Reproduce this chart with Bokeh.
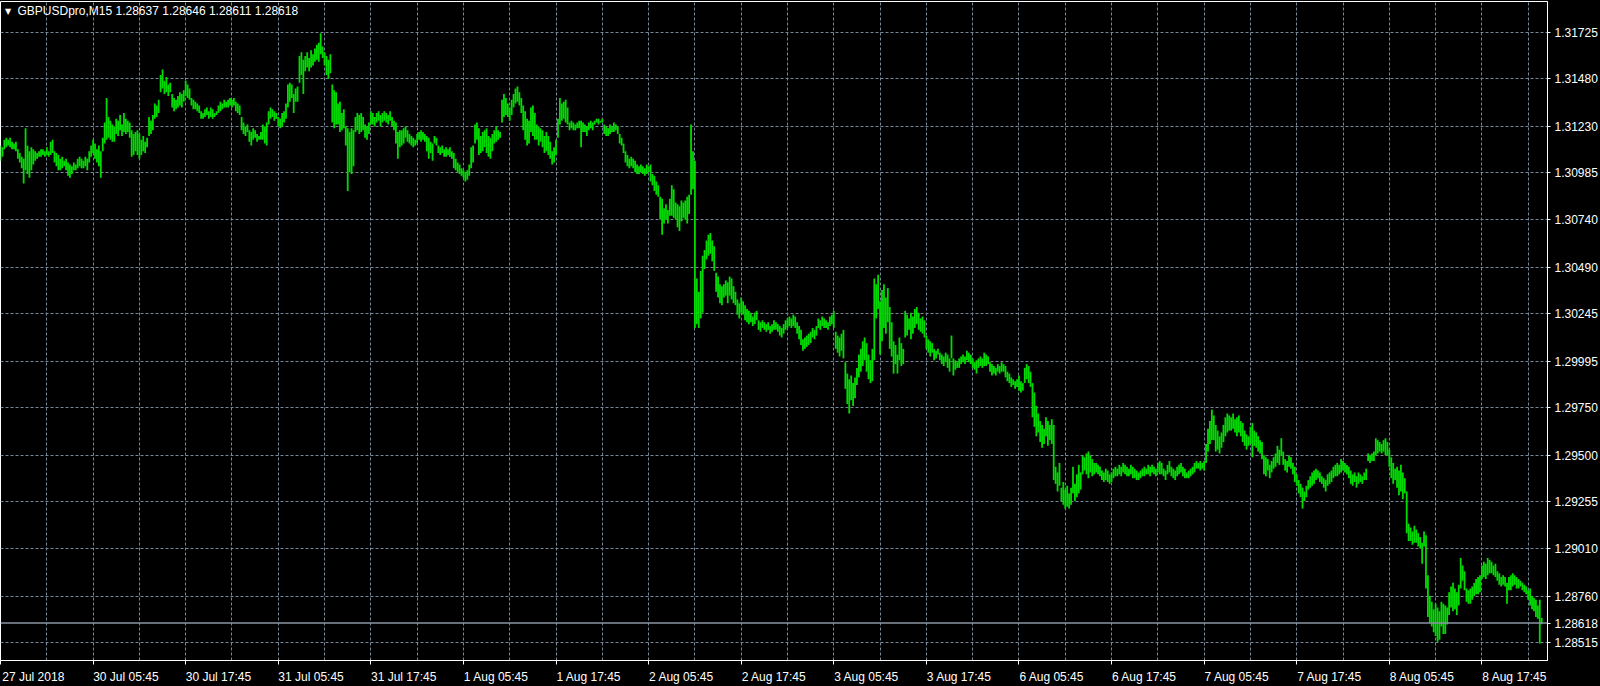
import numpy as np
from bokeh.plotting import figure
from bokeh.models import (Range1d, LinearAxis, FixedTicker, PrintfTickFormatter,
                          Span, Label, GlobalInlineStyleSheet)
from bokeh.embed import file_html
from bokeh.resources import INLINE

chart_title = "GBPUSDpro,M15  1.28637 1.28646 1.28611 1.28618"
current_price = 1.28618
price_ticks = [1.31725, 1.31480, 1.31230, 1.30985, 1.30740, 1.30490, 1.30245,
               1.29995, 1.29750, 1.29500, 1.29255, 1.29010, 1.28760, 1.28515]
time_labels = ["27 Jul 2018", "30 Jul 05:45", "30 Jul 17:45", "31 Jul 05:45",
               "31 Jul 17:45", "1 Aug 05:45", "1 Aug 17:45", "2 Aug 05:45",
               "2 Aug 17:45", "3 Aug 05:45", "3 Aug 17:45", "6 Aug 05:45",
               "6 Aug 17:45", "7 Aug 05:45", "7 Aug 17:45", "8 Aug 05:45",
               "8 Aug 17:45"]

# M15 bar highs (one per bar, oldest first)
high = [
    1.3113, 1.3112, 1.3116, 1.3117, 1.3116, 1.3117, 1.3115, 1.3114, 1.3115, 1.3111,
    1.3109, 1.3107, 1.3106, 1.3122, 1.3113, 1.3110, 1.3112, 1.3111, 1.3110, 1.3109,
    1.3110, 1.3111, 1.3111, 1.3110, 1.3112, 1.3110, 1.3115, 1.3116, 1.3110, 1.3109,
    1.3108, 1.3106, 1.3107, 1.3105, 1.3106, 1.3104, 1.3103, 1.3102, 1.3104, 1.3103,
    1.3106, 1.3107, 1.3106, 1.3105, 1.3107, 1.3106, 1.3110, 1.3113, 1.3116, 1.3114,
    1.3111, 1.3113, 1.3110, 1.3117, 1.3125, 1.3138, 1.3128, 1.3126, 1.3124, 1.3123,
    1.3127, 1.3126, 1.3129, 1.3124, 1.3130, 1.3127, 1.3126, 1.3125, 1.3121, 1.3119,
    1.3120, 1.3121, 1.3119, 1.3116, 1.3118, 1.3115, 1.3117, 1.3128, 1.3126, 1.3129,
    1.3135, 1.3134, 1.3137, 1.3150, 1.3153, 1.3147, 1.3149, 1.3145, 1.3146, 1.3140,
    1.3138, 1.3137, 1.3139, 1.3141, 1.3140, 1.3142, 1.3147, 1.3145, 1.3143, 1.3138,
    1.3137, 1.3136, 1.3135, 1.3134, 1.3131, 1.3130, 1.3132, 1.3133, 1.3131, 1.3133,
    1.3132, 1.3130, 1.3131, 1.3134, 1.3136, 1.3135, 1.3137, 1.3136, 1.3137, 1.3138,
    1.3137, 1.3138, 1.3136, 1.3135, 1.3134, 1.3128, 1.3125, 1.3123, 1.3124, 1.3121,
    1.3120, 1.3122, 1.3121, 1.3119, 1.3118, 1.3120, 1.3124, 1.3123, 1.3125, 1.3131,
    1.3133, 1.3132, 1.3131, 1.3130, 1.3128, 1.3127, 1.3130, 1.3131, 1.3135, 1.3145,
    1.3146, 1.3145, 1.3140, 1.3143, 1.3144, 1.3160, 1.3162, 1.3158, 1.3160, 1.3162,
    1.3159, 1.3163, 1.3161, 1.3164, 1.3166, 1.3167, 1.3172, 1.3165, 1.3162, 1.3160,
    1.3158, 1.3161, 1.3145, 1.3142, 1.3141, 1.3135, 1.3136, 1.3130, 1.3132, 1.3123,
    1.3122, 1.3120, 1.3122, 1.3121, 1.3128, 1.3130, 1.3129, 1.3130, 1.3128, 1.3124,
    1.3123, 1.3125, 1.3131, 1.3130, 1.3128, 1.3130, 1.3131, 1.3129, 1.3130, 1.3131,
    1.3130, 1.3129, 1.3131, 1.3128, 1.3126, 1.3125, 1.3120, 1.3121, 1.3121, 1.3122,
    1.3123, 1.3121, 1.3119, 1.3118, 1.3117, 1.3116, 1.3119, 1.3120, 1.3121, 1.3120,
    1.3119, 1.3118, 1.3117, 1.3115, 1.3114, 1.3118, 1.3117, 1.3113, 1.3112, 1.3113,
    1.3111, 1.3112, 1.3111, 1.3112, 1.3110, 1.3109, 1.3106, 1.3104, 1.3103, 1.3101,
    1.3100, 1.3099, 1.3100, 1.3103, 1.3112, 1.3113, 1.3124, 1.3125, 1.3122, 1.3118,
    1.3120, 1.3121, 1.3122, 1.3118, 1.3117, 1.3119, 1.3121, 1.3123, 1.3121, 1.3120,
    1.3137, 1.3140, 1.3138, 1.3135, 1.3133, 1.3137, 1.3140, 1.3143, 1.3144, 1.3141,
    1.3138, 1.3134, 1.3131, 1.3127, 1.3126, 1.3133, 1.3134, 1.3130, 1.3124, 1.3123,
    1.3122, 1.3121, 1.3118, 1.3120, 1.3118, 1.3115, 1.3110, 1.3112, 1.3116, 1.3127,
    1.3138, 1.3135, 1.3136, 1.3137, 1.3133, 1.3125, 1.3126, 1.3125, 1.3124, 1.3125,
    1.3126, 1.3126, 1.3125, 1.3124, 1.3123, 1.3125, 1.3126, 1.3125, 1.3126, 1.3127,
    1.3127, 1.3126, 1.3127, 1.3124, 1.3123, 1.3122, 1.3124, 1.3123, 1.3125, 1.3124,
    1.3123, 1.3119, 1.3117, 1.3114, 1.3110, 1.3108, 1.3106, 1.3107, 1.3106, 1.3105,
    1.3103, 1.3102, 1.3103, 1.3102, 1.3101, 1.3103, 1.3102, 1.3103, 1.3098, 1.3097,
    1.3094, 1.3092, 1.3086, 1.3085, 1.3080, 1.3082, 1.3079, 1.3085, 1.3092, 1.3090,
    1.3083, 1.3082, 1.3081, 1.3084, 1.3083, 1.3084, 1.3086, 1.3087, 1.3124, 1.3110,
    1.3105, 1.3043, 1.3036, 1.3047, 1.3055, 1.3058, 1.3063, 1.3066, 1.3067, 1.3063,
    1.3060, 1.3046, 1.3044, 1.3040, 1.3039, 1.3040, 1.3042, 1.3041, 1.3044, 1.3043,
    1.3039, 1.3036, 1.3032, 1.3030, 1.3033, 1.3031, 1.3029, 1.3027, 1.3026, 1.3025,
    1.3023, 1.3025, 1.3026, 1.3021, 1.3020, 1.3021, 1.3020, 1.3019, 1.3020, 1.3018,
    1.3019, 1.3021, 1.3020, 1.3019, 1.3018, 1.3017, 1.3019, 1.3021, 1.3022, 1.3023,
    1.3022, 1.3024, 1.3023, 1.3020, 1.3018, 1.3016, 1.3011, 1.3012, 1.3013, 1.3014,
    1.3015, 1.3017, 1.3016, 1.3018, 1.3022, 1.3021, 1.3023, 1.3022, 1.3021, 1.3020,
    1.3023, 1.3024, 1.3026, 1.3015, 1.3013, 1.3012, 1.3014, 1.3016, 1.2999, 1.2993,
    1.2990, 1.2992, 1.2988, 1.2991, 1.2996, 1.3003, 1.3006, 1.3010, 1.3012, 1.3009,
    1.3003, 1.3000, 1.3006, 1.3043, 1.3040, 1.3045, 1.3031, 1.3037, 1.3040, 1.3033,
    1.3038, 1.3028, 1.3020, 1.3010, 1.3008, 1.3003, 1.3012, 1.3009, 1.3006, 1.3026,
    1.3024, 1.3022, 1.3025, 1.3023, 1.3027, 1.3028, 1.3025, 1.3022, 1.3023, 1.3021,
    1.3013, 1.3011, 1.3010, 1.3009, 1.3006, 1.3005, 1.3006, 1.3004, 1.3003, 1.3002,
    1.3004, 1.3003, 1.3001, 1.3013, 1.3001, 1.3000, 1.2999, 1.3001, 1.3002, 1.3003,
    1.3002, 1.3005, 1.3004, 1.3003, 1.3001, 1.2999, 1.3000, 1.3001, 1.3002, 1.3001,
    1.3004, 1.3003, 1.3002, 1.2999, 1.2998, 1.2997, 1.2996, 1.2998, 1.2997, 1.2999,
    1.2998, 1.2997, 1.2994, 1.2993, 1.2991, 1.2990, 1.2989, 1.2990, 1.2992, 1.2989,
    1.2988, 1.2996, 1.2998, 1.2997, 1.2994, 1.2988, 1.2983, 1.2976, 1.2972, 1.2968,
    1.2966, 1.2964, 1.2970, 1.2968, 1.2966, 1.2969, 1.2966, 1.2944, 1.2941, 1.2946,
    1.2933, 1.2936, 1.2932, 1.2934, 1.2930, 1.2933, 1.2944, 1.2935, 1.2940, 1.2945,
    1.2941, 1.2950, 1.2949, 1.2951, 1.2952, 1.2950, 1.2948, 1.2946, 1.2946, 1.2945,
    1.2944, 1.2942, 1.2941, 1.2943, 1.2942, 1.2940, 1.2941, 1.2943, 1.2944, 1.2943,
    1.2945, 1.2944, 1.2946, 1.2945, 1.2944, 1.2943, 1.2945, 1.2944, 1.2943, 1.2942,
    1.2941, 1.2942, 1.2943, 1.2944, 1.2943, 1.2945, 1.2944, 1.2945, 1.2944, 1.2943,
    1.2946, 1.2947, 1.2946, 1.2943, 1.2942, 1.2945, 1.2947, 1.2944, 1.2943, 1.2942,
    1.2944, 1.2945, 1.2946, 1.2944, 1.2943, 1.2941, 1.2942, 1.2943, 1.2944, 1.2946,
    1.2947, 1.2946, 1.2947, 1.2946, 1.2947, 1.2956, 1.2964, 1.2968, 1.2974, 1.2971,
    1.2966, 1.2963, 1.2960, 1.2962, 1.2966, 1.2970, 1.2972, 1.2971, 1.2970, 1.2972,
    1.2969, 1.2970, 1.2971, 1.2968, 1.2967, 1.2963, 1.2961, 1.2960, 1.2965, 1.2967,
    1.2963, 1.2962, 1.2960, 1.2958, 1.2957, 1.2950, 1.2949, 1.2948, 1.2945, 1.2947,
    1.2949, 1.2951, 1.2955, 1.2953, 1.2959, 1.2952, 1.2948, 1.2947, 1.2950, 1.2949,
    1.2946, 1.2944, 1.2940, 1.2937, 1.2935, 1.2933, 1.2931, 1.2934, 1.2937, 1.2939,
    1.2941, 1.2942, 1.2943, 1.2942, 1.2941, 1.2939, 1.2938, 1.2937, 1.2940, 1.2941,
    1.2942, 1.2944, 1.2945, 1.2946, 1.2945, 1.2948, 1.2947, 1.2946, 1.2945, 1.2944,
    1.2942, 1.2940, 1.2941, 1.2939, 1.2941, 1.2940, 1.2939, 1.2941, 1.2943, 1.2951,
    1.2950, 1.2951, 1.2952, 1.2959, 1.2958, 1.2957, 1.2956, 1.2958, 1.2959, 1.2957,
    1.2953, 1.2949, 1.2946, 1.2943, 1.2944, 1.2942, 1.2945, 1.2941, 1.2938, 1.2931,
    1.2914, 1.2912, 1.2910, 1.2913, 1.2911, 1.2909, 1.2907, 1.2904, 1.2910, 1.2908,
    1.2887, 1.2876, 1.2873, 1.2869, 1.2872, 1.2870, 1.2868, 1.2873, 1.2872, 1.2871,
    1.2870, 1.2878, 1.2881, 1.2883, 1.2880, 1.2878, 1.2882, 1.2896, 1.2892, 1.2889,
    1.2880, 1.2879, 1.2880, 1.2881, 1.2883, 1.2885, 1.2886, 1.2887, 1.2892, 1.2894,
    1.2893, 1.2896, 1.2895, 1.2894, 1.2892, 1.2893, 1.2889, 1.2888, 1.2886, 1.2887,
    1.2886, 1.2883, 1.2886, 1.2887, 1.2888, 1.2887, 1.2886, 1.2885, 1.2884, 1.2883,
    1.2882, 1.2881, 1.2879, 1.2880, 1.2876, 1.2875, 1.2874, 1.2871, 1.2874, 1.28646,
]

# M15 bar lows (one per bar, oldest first)
low = [
    1.3105, 1.3107, 1.3111, 1.3112, 1.3113, 1.3112, 1.3111, 1.3111, 1.3110, 1.3106,
    1.3104, 1.3101, 1.3093, 1.3100, 1.3098, 1.3096, 1.3100, 1.3103, 1.3105, 1.3106,
    1.3107, 1.3107, 1.3108, 1.3107, 1.3108, 1.3107, 1.3108, 1.3109, 1.3104, 1.3102,
    1.3100, 1.3100, 1.3101, 1.3102, 1.3100, 1.3097, 1.3096, 1.3098, 1.3100, 1.3100,
    1.3101, 1.3102, 1.3101, 1.3101, 1.3102, 1.3100, 1.3104, 1.3107, 1.3109, 1.3106,
    1.3104, 1.3102, 1.3096, 1.3110, 1.3114, 1.3116, 1.3117, 1.3116, 1.3115, 1.3115,
    1.3119, 1.3118, 1.3121, 1.3118, 1.3120, 1.3119, 1.3120, 1.3117, 1.3107, 1.3108,
    1.3110, 1.3108, 1.3106, 1.3108, 1.3110, 1.3109, 1.3112, 1.3118, 1.3119, 1.3121,
    1.3127, 1.3128, 1.3130, 1.3141, 1.3143, 1.3140, 1.3141, 1.3139, 1.3141, 1.3133,
    1.3131, 1.3132, 1.3133, 1.3134, 1.3133, 1.3136, 1.3139, 1.3138, 1.3137, 1.3134,
    1.3132, 1.3132, 1.3131, 1.3130, 1.3127, 1.3127, 1.3128, 1.3129, 1.3127, 1.3128,
    1.3127, 1.3128, 1.3129, 1.3130, 1.3131, 1.3132, 1.3133, 1.3133, 1.3133, 1.3134,
    1.3133, 1.3134, 1.3131, 1.3130, 1.3129, 1.3121, 1.3119, 1.3118, 1.3120, 1.3115,
    1.3113, 1.3116, 1.3117, 1.3115, 1.3116, 1.3116, 1.3116, 1.3114, 1.3113, 1.3124,
    1.3127, 1.3128, 1.3126, 1.3127, 1.3123, 1.3122, 1.3123, 1.3125, 1.3127, 1.3133,
    1.3136, 1.3138, 1.3130, 1.3136, 1.3136, 1.3146, 1.3150, 1.3140, 1.3152, 1.3154,
    1.3152, 1.3154, 1.3155, 1.3157, 1.3158, 1.3157, 1.3161, 1.3159, 1.3155, 1.3150,
    1.3148, 1.3151, 1.3125, 1.3122, 1.3124, 1.3124, 1.3120, 1.3121, 1.3122, 1.3113,
    1.3089, 1.3099, 1.3098, 1.3102, 1.3120, 1.3121, 1.3119, 1.3120, 1.3121, 1.3117,
    1.3116, 1.3119, 1.3124, 1.3124, 1.3123, 1.3125, 1.3126, 1.3123, 1.3125, 1.3126,
    1.3125, 1.3124, 1.3126, 1.3123, 1.3121, 1.3114, 1.3106, 1.3112, 1.3113, 1.3114,
    1.3117, 1.3115, 1.3114, 1.3113, 1.3112, 1.3113, 1.3114, 1.3116, 1.3115, 1.3116,
    1.3115, 1.3110, 1.3106, 1.3109, 1.3105, 1.3114, 1.3113, 1.3109, 1.3108, 1.3109,
    1.3107, 1.3107, 1.3108, 1.3107, 1.3106, 1.3101, 1.3100, 1.3099, 1.3098, 1.3097,
    1.3096, 1.3094, 1.3095, 1.3097, 1.3101, 1.3104, 1.3114, 1.3116, 1.3108, 1.3109,
    1.3110, 1.3112, 1.3109, 1.3107, 1.3106, 1.3110, 1.3114, 1.3115, 1.3116, 1.3117,
    1.3125, 1.3128, 1.3129, 1.3128, 1.3126, 1.3129, 1.3133, 1.3135, 1.3136, 1.3134,
    1.3130, 1.3121, 1.3116, 1.3113, 1.3114, 1.3120, 1.3118, 1.3116, 1.3116, 1.3113,
    1.3115, 1.3112, 1.3109, 1.3110, 1.3108, 1.3106, 1.3103, 1.3104, 1.3108, 1.3117,
    1.3124, 1.3126, 1.3127, 1.3125, 1.3124, 1.3121, 1.3122, 1.3121, 1.3121, 1.3122,
    1.3122, 1.3112, 1.3120, 1.3120, 1.3118, 1.3121, 1.3122, 1.3121, 1.3124, 1.3125,
    1.3124, 1.3125, 1.3125, 1.3119, 1.3118, 1.3118, 1.3119, 1.3120, 1.3120, 1.3121,
    1.3119, 1.3114, 1.3113, 1.3109, 1.3104, 1.3102, 1.3101, 1.3102, 1.3101, 1.3099,
    1.3098, 1.3098, 1.3099, 1.3098, 1.3097, 1.3098, 1.3099, 1.3094, 1.3092, 1.3089,
    1.3087, 1.3086, 1.3074, 1.3066, 1.3072, 1.3074, 1.3072, 1.3076, 1.3076, 1.3075,
    1.3074, 1.3070, 1.3068, 1.3073, 1.3075, 1.3074, 1.3072, 1.3077, 1.3087, 1.3090,
    1.3017, 1.3019, 1.3017, 1.3022, 1.3025, 1.3048, 1.3053, 1.3055, 1.3056, 1.3052,
    1.3047, 1.3036, 1.3033, 1.3030, 1.3029, 1.3033, 1.3034, 1.3030, 1.3034, 1.3032,
    1.3030, 1.3029, 1.3024, 1.3022, 1.3025, 1.3024, 1.3021, 1.3020, 1.3019, 1.3020,
    1.3018, 1.3019, 1.3021, 1.3016, 1.3015, 1.3017, 1.3016, 1.3015, 1.3016, 1.3014,
    1.3015, 1.3016, 1.3016, 1.3015, 1.3013, 1.3012, 1.3014, 1.3016, 1.3017, 1.3018,
    1.3017, 1.3018, 1.3017, 1.3014, 1.3011, 1.3008, 1.3005, 1.3006, 1.3007, 1.3008,
    1.3009, 1.3012, 1.3011, 1.3013, 1.3017, 1.3016, 1.3018, 1.3017, 1.3017, 1.3016,
    1.3018, 1.3019, 1.3017, 1.3006, 1.3004, 1.3002, 1.3005, 1.3001, 1.2985, 1.2977,
    1.2972, 1.2979, 1.2976, 1.2980, 1.2987, 1.2991, 1.2994, 1.2997, 1.3000, 1.2994,
    1.2990, 1.2988, 1.2989, 1.3000, 1.3022, 1.3027, 1.3003, 1.3010, 1.3017, 1.3014,
    1.3020, 1.3006, 1.3002, 1.2993, 1.2998, 1.2993, 1.3000, 1.2997, 1.2998, 1.3012,
    1.3013, 1.3016, 1.3011, 1.3014, 1.3017, 1.3019, 1.3016, 1.3015, 1.3014, 1.3012,
    1.3006, 1.3004, 1.3002, 1.3004, 1.3000, 1.3001, 1.3003, 1.3000, 1.2998, 1.2997,
    1.2999, 1.2996, 1.2994, 1.3001, 1.2992, 1.2995, 1.2996, 1.2996, 1.2998, 1.2999,
    1.2998, 1.3000, 1.2999, 1.2998, 1.2996, 1.2995, 1.2993, 1.2996, 1.2997, 1.2996,
    1.2997, 1.2997, 1.2998, 1.2994, 1.2992, 1.2993, 1.2992, 1.2994, 1.2993, 1.2994,
    1.2994, 1.2991, 1.2989, 1.2988, 1.2986, 1.2987, 1.2985, 1.2986, 1.2984, 1.2983,
    1.2984, 1.2988, 1.2990, 1.2988, 1.2986, 1.2970, 1.2965, 1.2960, 1.2962, 1.2957,
    1.2954, 1.2956, 1.2960, 1.2955, 1.2958, 1.2956, 1.2937, 1.2935, 1.2931, 1.2934,
    1.2926, 1.2924, 1.2922, 1.2923, 1.2922, 1.2924, 1.2930, 1.2926, 1.2928, 1.2930,
    1.2932, 1.2940, 1.2942, 1.2940, 1.2938, 1.2941, 1.2939, 1.2940, 1.2941, 1.2940,
    1.2939, 1.2937, 1.2936, 1.2937, 1.2936, 1.2935, 1.2936, 1.2938, 1.2939, 1.2939,
    1.2940, 1.2939, 1.2941, 1.2940, 1.2939, 1.2939, 1.2940, 1.2938, 1.2938, 1.2937,
    1.2937, 1.2938, 1.2939, 1.2939, 1.2940, 1.2940, 1.2939, 1.2941, 1.2940, 1.2939,
    1.2941, 1.2940, 1.2940, 1.2939, 1.2937, 1.2940, 1.2941, 1.2939, 1.2938, 1.2937,
    1.2939, 1.2940, 1.2941, 1.2939, 1.2938, 1.2938, 1.2938, 1.2939, 1.2940, 1.2941,
    1.2943, 1.2943, 1.2942, 1.2943, 1.2942, 1.2946, 1.2952, 1.2956, 1.2958, 1.2958,
    1.2952, 1.2953, 1.2951, 1.2954, 1.2957, 1.2960, 1.2962, 1.2963, 1.2963, 1.2964,
    1.2962, 1.2960, 1.2962, 1.2960, 1.2957, 1.2955, 1.2953, 1.2955, 1.2956, 1.2949,
    1.2955, 1.2954, 1.2952, 1.2951, 1.2948, 1.2940, 1.2939, 1.2942, 1.2938, 1.2941,
    1.2943, 1.2944, 1.2946, 1.2945, 1.2950, 1.2945, 1.2942, 1.2941, 1.2944, 1.2943,
    1.2940, 1.2936, 1.2934, 1.2930, 1.2928, 1.2922, 1.2926, 1.2928, 1.2932, 1.2933,
    1.2934, 1.2935, 1.2937, 1.2938, 1.2936, 1.2935, 1.2933, 1.2931, 1.2934, 1.2935,
    1.2936, 1.2938, 1.2939, 1.2939, 1.2940, 1.2941, 1.2942, 1.2941, 1.2940, 1.2938,
    1.2935, 1.2934, 1.2936, 1.2933, 1.2935, 1.2936, 1.2935, 1.2937, 1.2937, 1.2947,
    1.2946, 1.2947, 1.2947, 1.2950, 1.2951, 1.2952, 1.2951, 1.2952, 1.2950, 1.2950,
    1.2944, 1.2938, 1.2935, 1.2937, 1.2933, 1.2929, 1.2931, 1.2927, 1.2930, 1.2909,
    1.2905, 1.2905, 1.2903, 1.2904, 1.2904, 1.2902, 1.2901, 1.2893, 1.2902, 1.2880,
    1.2865, 1.2862, 1.2860, 1.2857, 1.2855, 1.2852, 1.2853, 1.2860, 1.2856, 1.2856,
    1.2861, 1.2866, 1.2870, 1.2868, 1.2869, 1.2866, 1.2871, 1.2880, 1.2884, 1.2879,
    1.2873, 1.2872, 1.2872, 1.2874, 1.2876, 1.2877, 1.2877, 1.2878, 1.2885, 1.2886,
    1.2885, 1.2887, 1.2888, 1.2888, 1.2887, 1.2886, 1.2884, 1.2882, 1.2881, 1.2882,
    1.2881, 1.2872, 1.2879, 1.2879, 1.2881, 1.2882, 1.2880, 1.2880, 1.2881, 1.2879,
    1.2878, 1.2877, 1.2874, 1.2871, 1.2869, 1.2868, 1.2865, 1.2864, 1.2851, 1.28611,
]

BARS_PER_LABEL = 48   # 12 hours of M15 bars between time labels
BARS_PER_GRID = 24    # 6 hours between vertical grid lines

n = min(len(high), len(low))
idx = np.arange(n)
hi = np.array(high[:n])
lo = np.array(low[:n])

GREEN = "#00DC00"
GRID = "#778899"
FONT = "Liberation Sans"

p = figure(width=1600, height=686, output_backend="svg", toolbar_location=None,
           x_range=Range1d(0, 802), y_range=Range1d(1.28421, 1.31887),
           y_axis_location="right",
           background_fill_color="black", border_fill_color="black",
           min_border_left=0, min_border_top=1, min_border_right=0, min_border_bottom=23,
           outline_line_color="white", outline_line_width=1)
p.stylesheets = [GlobalInlineStyleSheet(
    css="html, body { background-color: #000000; margin: 0; padding: 0; overflow: hidden; }")]

# bottom time axis: labels sit just right of each tick (minor ticks mark the times)
tick_pos = [k * BARS_PER_LABEL for k in range(len(time_labels))]
label_pos = [t + 17 for t in tick_pos]
xa = p.xaxis[0]
xa.ticker = FixedTicker(ticks=label_pos, minor_ticks=tick_pos)
xa.major_label_overrides = {lp: lab for lp, lab in zip(label_pos, time_labels)}
xa.major_tick_line_color = None
xa.major_tick_in = 0
xa.major_tick_out = 0
xa.minor_tick_line_color = "white"
xa.minor_tick_in = 0
xa.minor_tick_out = 4
xa.axis_line_color = "white"
xa.major_label_text_color = "white"
xa.major_label_text_font = FONT
xa.major_label_text_font_size = "12px"
xa.major_label_standoff = 5

# right price axis (current price included as a tick so its value is always shown)
ya = p.yaxis[0]
ya.ticker = FixedTicker(ticks=price_ticks + [current_price])
ya.formatter = PrintfTickFormatter(format="%.5f")
ya.axis_line_color = "white"
ya.major_tick_in = 0
ya.major_tick_out = 3
ya.major_tick_line_color = "white"
ya.minor_tick_line_color = None
ya.major_label_text_color = "white"
ya.major_label_text_font = FONT
ya.major_label_text_font_size = "12px"
ya.major_label_standoff = 4
ya.axis_label_standoff = 0

# white price tag on the scale, if axis labels can carry a background
tag_axis = LinearAxis(ticker=FixedTicker(ticks=[current_price]),
                      formatter=PrintfTickFormatter(format="%.5f"),
                      axis_line_color=None, major_tick_line_color=None,
                      minor_tick_line_color=None, major_tick_in=0, major_tick_out=0,
                      major_label_text_color="#1e2a36", major_label_text_font=FONT,
                      major_label_text_font_size="12px", major_label_standoff=-43)
if hasattr(tag_axis, "major_label_background_fill_color"):
    tag_axis.major_label_background_fill_color = "white"
    p.add_layout(tag_axis, "right")

# grids
p.xgrid.ticker = FixedTicker(ticks=list(range(0, 803, BARS_PER_GRID)))
p.ygrid.ticker = FixedTicker(ticks=price_ticks)
for g in (p.xgrid, p.ygrid):
    g.grid_line_color = GRID
    g.grid_line_dash = "3 2"
    g.grid_line_width = 1

# bars (high-low)
p.segment(x0=idx, y0=lo, x1=idx, y1=hi, line_color=GREEN, line_width=1.8)

# current price line
p.add_layout(Span(location=current_price, dimension="width",
                  line_color="#8a96a3", line_width=1.5))

# title inside chart
p.add_layout(Label(x=3.9, y=1.31832, text="\u25bc", text_align="center",
                   text_baseline="middle", text_color="white",
                   text_font="DejaVu Sans", text_font_size="8px"))
p.add_layout(Label(x=8.8, y=1.31835, text=chart_title, text_align="left",
                   text_baseline="middle", text_color="white",
                   text_font=FONT, text_font_size="12px"))

open("out.html", "w").write(file_html(p, INLINE))
